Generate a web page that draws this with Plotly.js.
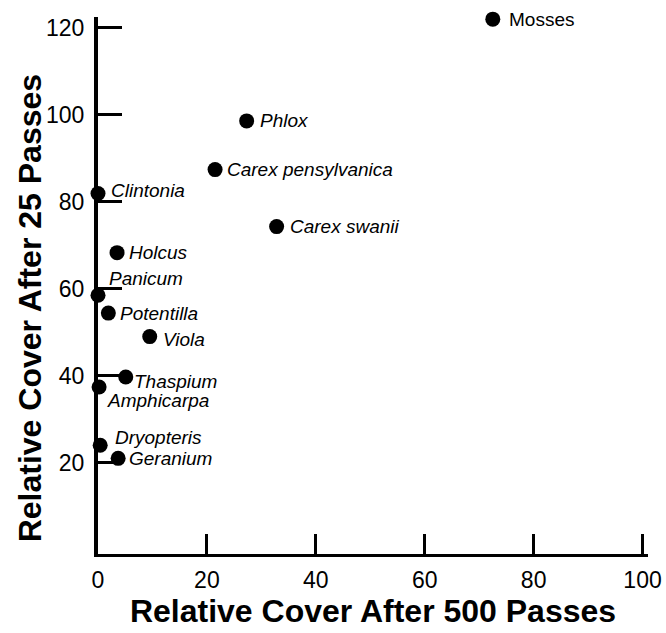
<!DOCTYPE html>
<html><head><meta charset="utf-8">
<script src="https://cdn.plot.ly/plotly-3.0.1.min.js"></script>
<style>body{margin:0;background:#fff}#chart{width:666px;height:633px}</style>
</head><body><div id="chart"></div>
<script>
const species = ["Mosses","Phlox","Carex pensylvanica","Carex swanii","Clintonia","Holcus","Panicum","Potentilla","Viola","Thaspium","Amphicarpa","Dryopteris","Geranium"];
const cover500 = [72.5, 27.3, 21.5, 32.8, 0, 3.5, 0, 1.9, 9.5, 5.1, 0.2, 0.4, 3.7];
const cover25 = [122, 98.6, 87.4, 74.3, 81.9, 68.3, 58.5, 54.4, 49, 39.7, 37.4, 24, 21];
const xTicks = [0,20,40,60,80,100];
const yTicks = [20,40,60,80,100,120];

// label placement (pixel offsets from each marker centre)
const labelDx = [14, 11, 10, 11, 11, 10, 9, 10, 11, 6, 6, 13, 9];
const labelDy = [0, 0, 0, 0, 3, 0, 17, 0, -3, -4, -13, 8, 0];

const trace = {
  x: cover500, y: cover25, mode: "markers", type: "scatter",
  cliponaxis: false, text: species,
  marker: {size: 15, color: "#000"}, hoverinfo: "skip"
};
const labelAnns = species.map((s, i) => ({
  text: s === "Mosses" ? s : "<i>" + s + "</i>",
  x: cover500[i], y: cover25[i], xref: "x", yref: "y",
  xanchor: "left", yanchor: "middle", xshift: labelDx[i], yshift: labelDy[i],
  showarrow: false, font: {size: 19, color: "#000"}
}));
const layout = {
  width: 666, height: 633, showlegend: false,
  paper_bgcolor: "#fff", plot_bgcolor: "#fff",
  margin: {l: 98, r: 18, t: 17, b: 79},
  font: {family: "Liberation Sans, Arial, sans-serif", color: "#000"},
  xaxis: {
    range: [0, 101], tickvals: xTicks, ticktext: xTicks.map(String),
    ticks: "inside", ticklen: 20, tickwidth: 3, tickcolor: "#000",
    showline: true, linewidth: 3, linecolor: "#000", showgrid: false, zeroline: false,
    tickfont: {size: 23}, ticklabelstandoff: 3,
    title: {text: "<b>Relative Cover After 500 Passes</b>", font: {size: 32}, standoff: 6}
  },
  yaxis: {
    range: [-1, 122.5], tickvals: yTicks, ticktext: yTicks.map(String),
    ticks: "inside", ticklen: 24, tickwidth: 3, tickcolor: "#000",
    showline: true, linewidth: 4, linecolor: "#000", showgrid: false, zeroline: false,
    tickfont: {size: 23}, ticklabelstandoff: 5
  },
  annotations: labelAnns.concat([{
    text: "<b>Relative Cover After 25 Passes</b>", textangle: -90,
    xref: "paper", yref: "y", x: 0, y: 55.5, xanchor: "center", yanchor: "middle",
    xshift: -68, showarrow: false, font: {size: 32, color: "#000"}
  }])
};
Plotly.newPlot("chart", [trace], layout, {displayModeBar: false, staticPlot: true});
</script></body></html>
